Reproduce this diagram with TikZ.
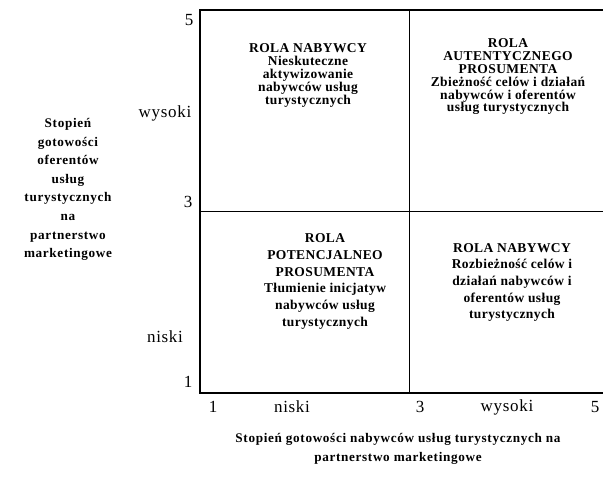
\documentclass[tikz,border=0pt]{standalone}
\usepackage{fontspec}
\setmainfont{Liberation Serif}
\newfontfamily\rolefont{Liberation Serif}[LetterSpace=3]
\newfontfamily\axisfont{Liberation Serif}[LetterSpace=5]
\newfontfamily\tickfont{Liberation Serif}[LetterSpace=4]
\usepackage{tikz}

\begin{document}
\begin{tikzpicture}[x=1pt,y=-1pt,
    rola/.style={align=center,inner sep=0pt,font=\rolefont\bfseries\fontsize{13.5}{12.8}\selectfont},
    rolalow/.style={rola,font=\rolefont\bfseries\fontsize{13.5}{16.7}\selectfont},
    axistitle/.style={align=center,inner sep=0pt,font=\axisfont\bfseries\fontsize{13.2}{18.6}\selectfont},
    tick/.style={inner sep=0pt,font=\tickfont\fontsize{17}{17}\selectfont},
    frame/.style={line width=1.3pt},
    divider/.style={line width=1pt}]
      \useasboundingbox (0,0) rectangle (603,478);
      % frame of the matrix
      \coordinate (lt) at (200,10);
      \coordinate (rt) at (603,10);
      \coordinate (lb) at (200,393);
      \coordinate (rb) at (603,393);
      \coordinate (mt) at (409,10);
      \coordinate (mb) at (409,393);
      \coordinate (ml) at (200,212);
      \coordinate (mr) at (603,212);
      \draw[frame] (rt) -- (lt) -- (lb) -- (rb);
      \draw[divider] (mt) -- (mb);
      \draw[divider] (ml) -- (mr);
%%%%%%%%%%%%%%%%%%%%%%%%%%%%%%%%%%%%%%%%%%%%%%%%%%%%%%%%%%%%%%%%%%%%%%%
      \draw (308,75.5) node[rola] (nabywca1) {ROLA NABYWCY\\Nieskuteczne\\aktywizowanie\\nabywców usług\\turystycznych};
      \draw (508,77) node[rola] (autentyczny) {ROLA\\AUTENTYCZNEGO\\PROSUMENTA\\Zbieżność celów i działań\\nabywców i oferentów\\usług turystycznych};
      \draw (325,281.5) node[rolalow] (potencjalny) {ROLA\\POTENCJALNEO\\PROSUMENTA\\Tłumienie inicjatyw\\nabywców usług\\turystycznych};
      \draw (512,282.5) node[rolalow] (nabywca2) {ROLA NABYWCY\\Rozbieżność celów i\\działań nabywców i\\oferentów usług\\turystycznych};
%%%%%%%%%%%%%%%%%%%%%%%%%%%%%%%%%%%%%%%%%%%%%%%%%%%%%%%%%%%%%%%%%%%%%%%
      \draw (189,20) node[tick] (y5) {5};
      \draw (165,113) node[tick] (ywysoki) {wysoki};
      \draw (188,202) node[tick] (y3) {3};
      \draw (165,337) node[tick] (yniski) {niski};
      \draw (188,382) node[tick] (y1) {1};
      \draw (213,407) node[tick] (x1) {1};
      \draw (292,407) node[tick] (xniski) {niski};
      \draw (420,407) node[tick] (x3) {3};
      \draw (507,407) node[tick] (xwysoki) {wysoki};
      \draw (595,407) node[tick] (x5) {5};
%%%%%%%%%%%%%%%%%%%%%%%%%%%%%%%%%%%%%%%%%%%%%%%%%%%%%%%%%%%%%%%%%%%%%%%
      \draw (68,189.5) node[axistitle] (oferenci) {Stopień\\gotowości\\oferentów\\usług\\turystycznych\\na\\partnerstwo\\marketingowe};
      \draw (398,449) node[axistitle] (nabywcy) {Stopień gotowości nabywców usług turystycznych na\\partnerstwo marketingowe};
\end{tikzpicture}
\end{document}
